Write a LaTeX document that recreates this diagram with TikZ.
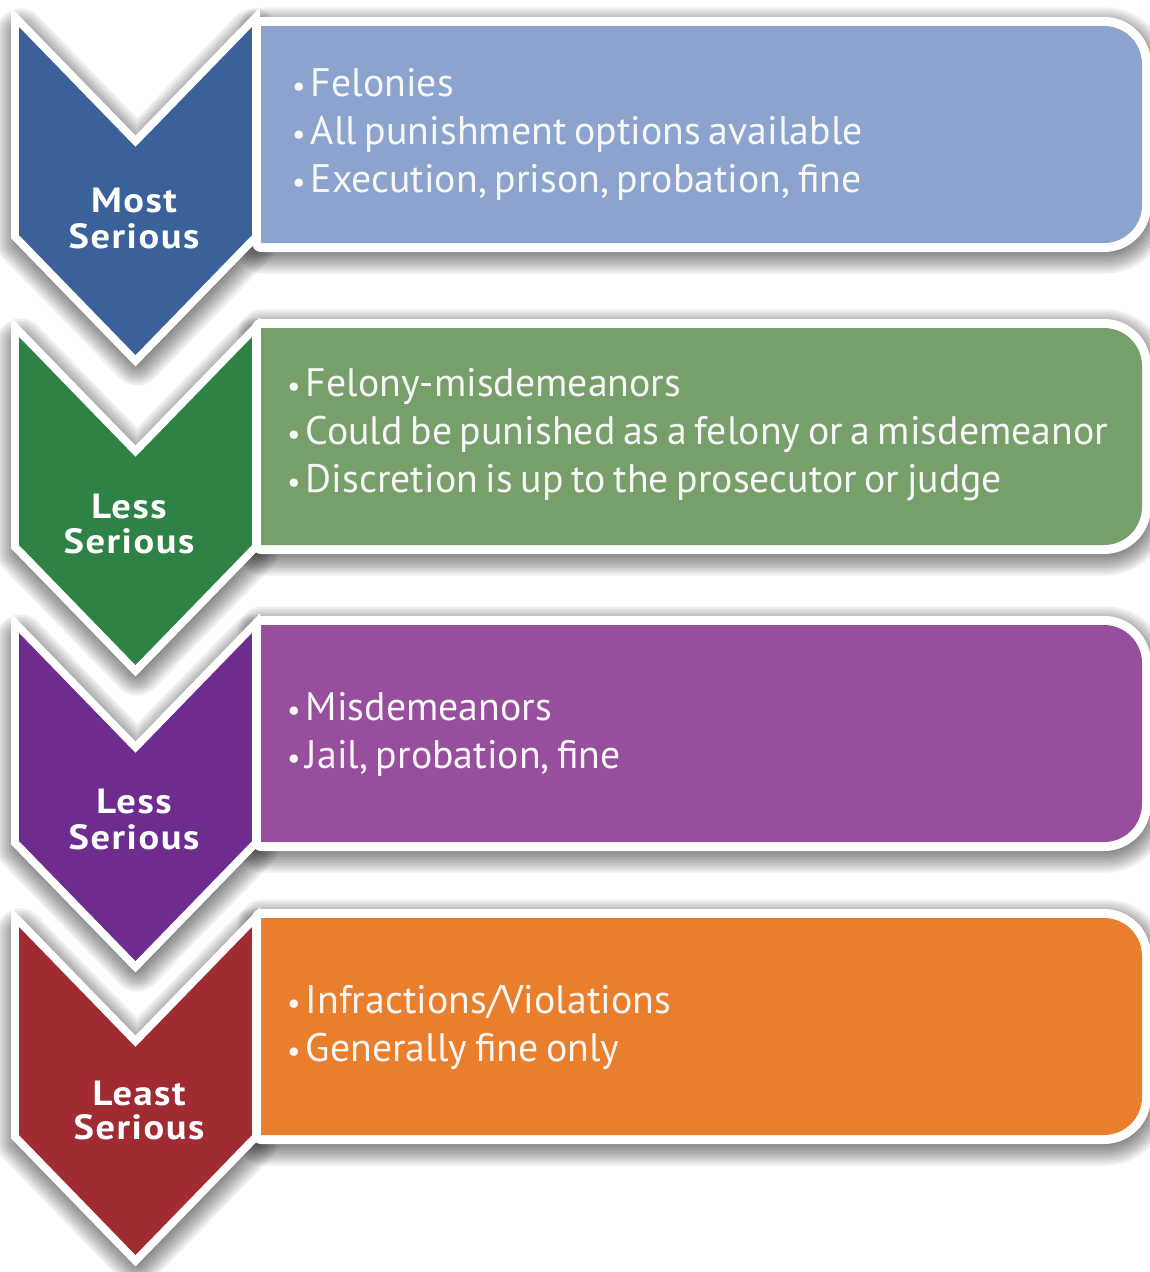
\documentclass[tikz,border=0pt]{standalone}
\usepackage{fontspec}
\setmainfont{PT Sans}[WordSpace=0.72]
\newfontfamily\lblfont{PT Sans}[LetterSpace=4]
\definecolor{bluedark}{HTML}{3A6199}
\definecolor{bluelight}{HTML}{8CA3CD}
\definecolor{greendark}{HTML}{2F8245}
\definecolor{greenlight}{HTML}{769F6A}
\definecolor{purpledark}{HTML}{6E2C8F}
\definecolor{purplelight}{HTML}{974E9D}
\definecolor{reddark}{HTML}{A02B33}
\definecolor{orangelight}{HTML}{E97E2C}
\definecolor{textwhite}{HTML}{F7F7F7}
\newcommand\chevronpath[1]{(19,#1) -- (135.5,#1+120) -- (252,#1) -- (252,#1+208) -- (135.5,#1+328) -- (19,#1+208) -- cycle}
\newcommand\boxpath[1]{(261,#1) -- (700,#1) [rounded corners=38pt] -- (1142,#1) -- (1142,#1+217) -- (700,#1+217) [sharp corners] -- (261,#1+217) -- cycle}
\newcommand\bul{{\fontsize{30}{30}\selectfont •}\hspace{5pt}}
\newcommand\lbltext[1]{\scalebox{1.1}[1]{#1}}
\begin{document}
\begin{tikzpicture}[x=1pt,y=-1pt,
  txt/.style={anchor=base west, inner sep=0pt, text=textwhite, font=\fontsize{39.8}{48}\selectfont},
  lbl/.style={anchor=base, inner sep=0pt, text=white, font=\lblfont\bfseries\fontsize{35}{36}\selectfont},
  chevedge/.style={draw=white, line width=16pt, line join=miter},
  boxedge/.style={draw=white, line width=18pt, line join=round},
  shadowlayer/.style={draw=black, opacity=0.062, line join=round}
]
\useasboundingbox (0,0) rectangle (1150,1272);
\fill[white] (0,0) rectangle (1150,1272);
% shadows
\begin{scope}[shift={(1.5,6)}]
\foreach \C/\T in {27/26, 337/328, 633/625, 927/918} {
  \foreach \w in {4,9,...,49} {
    \draw[shadowlayer, line width=\w pt] \chevronpath{\C};
    \draw[shadowlayer, line width=\w pt] \boxpath{\T};
  }
}
\end{scope}
% shapes
\foreach \C/\T/\dk/\lt in {27/26/bluedark/bluelight, 337/328/greendark/greenlight, 633/625/purpledark/purplelight, 927/918/reddark/orangelight} {
  \draw[chevedge] \chevronpath{\C};
  \fill[\dk] \chevronpath{\C};
  \draw[boxedge] \boxpath{\T};
  \fill[\lt] \boxpath{\T};
}
% chevron labels
\node[lbl] (l1a) at (134,212) {\lbltext{Most}};
\node[lbl] (l1b) at (134,248) {\lbltext{Serious}};
\node[lbl] (l2a) at (129,518) {\lbltext{Less}};
\node[lbl] (l2b) at (129,553) {\lbltext{Serious}};
\node[lbl] (l3a) at (134,813) {\lbltext{Less}};
\node[lbl] (l3b) at (134,849) {\lbltext{Serious}};
\node[lbl] (l4a) at (139,1105) {\lbltext{Least}};
\node[lbl] (l4b) at (139,1139) {\lbltext{Serious}};
% box texts
\node[txt] (t1a) at (292,96) {\bul Felonies};
\node[txt] (t1b) at (292,144) {\bul All punishment options available};
\node[txt] (t1c) at (292,192) {\bul Execution, prison, probation, fine};
\node[txt] (t2a) at (287,396) {\bul Felony-misdemeanors};
\node[txt] (t2b) at (287,444) {\bul Could be punished as a felony or a misdemeanor};
\node[txt] (t2c) at (287,492) {\bul Discretion is up to the prosecutor or judge};
\node[txt] (t3a) at (287,720) {\bul Misdemeanors};
\node[txt] (t3b) at (287,768) {\bul Jail, probation, fine};
\node[txt] (t4a) at (287,1013) {\bul Infractions/Violations};
\node[txt] (t4b) at (287,1061) {\bul Generally fine only};
\end{tikzpicture}
\end{document}
